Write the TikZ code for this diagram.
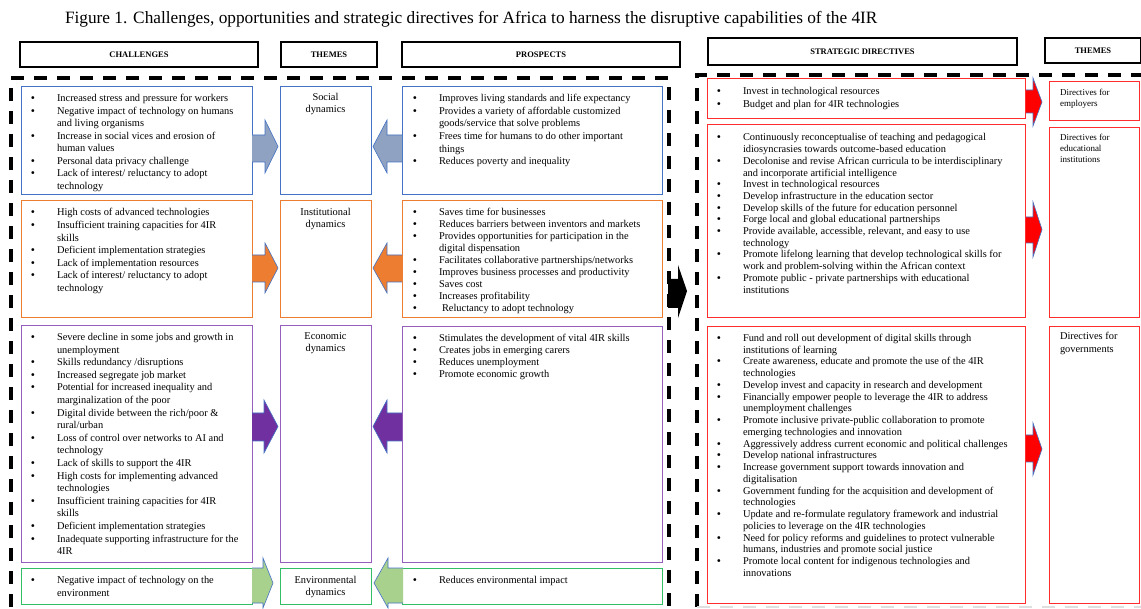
\documentclass[tikz,border=0pt]{standalone}
\usepackage{fontspec}
\setmainfont{Liberation Serif}
\definecolor{socblue}{RGB}{68,114,196}
\definecolor{socfill}{RGB}{143,162,193}
\definecolor{instor}{RGB}{237,125,49}
\definecolor{econp}{RGB}{112,48,160}
\definecolor{econbox}{RGB}{150,95,190}
\definecolor{envg}{RGB}{169,209,142}
\definecolor{envbox}{RGB}{50,190,100}
\definecolor{dirred}{RGB}{255,45,45}
\newcommand\bi[1]{\par\hangindent=26pt\hangafter=1\noindent\makebox[26pt][l]{\bfseries\textbullet}#1}
\newcommand\blist[2]{\begin{minipage}[t]{330pt}\fontsize{10.4}{#1}\selectfont\raggedright #2\end{minipage}}
\newcommand\thm[1]{\fontsize{10.4}{12}\selectfont\begin{tabular}[t]{@{}c@{}}#1\end{tabular}}
\tikzset{
  frame/.style={line width=1pt, inner sep=0pt, outer sep=0pt, anchor=north west},
  hdr/.style={draw=black, line width=1.5pt, inner sep=0pt, outer sep=0pt, anchor=north west,
     font=\fontsize{8.5}{10}\selectfont\bfseries},
  txt/.style={anchor=base west, inner sep=0pt, outer sep=0pt},
  blockarrow/.style={draw=socblue, line width=0.6pt, line join=miter},
  dashframe/.style={line width=4pt, dash pattern=on 13pt off 10pt},
}
\newcommand\bx[6]{\node[frame, draw=#2, minimum width={(#5-#3)*1pt}, minimum height={(#6-#4)*1pt}] (#1) at (#3,#4) {};}
\newcommand\hb[6]{\node[hdr, minimum width={(#5-#3)*1pt}, minimum height={(#6-#4)*1pt}] (#1) at (#3,#4) {#2};}
% block arrow: fill, x0 (base), xh (head start), xt (tip), s1, s2 (shaft), h1, h2 (head)
\newcommand\barr[8]{\fill[#1] (#2,#5) -- (#3,#5) -- (#3,#7) -- (#4,{(#7+#8)/2}) -- (#3,#8) -- (#3,#6) -- (#2,#6) -- cycle;
  \draw[blockarrow] (#2,#5) -- (#3,#5) -- (#3,#7) -- (#4,{(#7+#8)/2}) -- (#3,#8) -- (#3,#6) -- (#2,#6);}
\begin{document}
\begin{tikzpicture}[x=1pt,y=-1pt]
\useasboundingbox[fill=white] (0,0) rectangle (1141,609);

% title
\node[txt] (title) at (65,24) {\fontsize{17.3}{19}\selectfont Figure 1. Challenges, opportunities and strategic directives for Africa to harness the disruptive capabilities of the 4IR};

% headers
\hb{hChal}{CHALLENGES}{20}{42}{258}{67}
\hb{hThem}{THEMES}{281}{42}{377}{67}
\hb{hPros}{PROSPECTS}{402}{42}{680}{67}
\hb{hStrat}{STRATEGIC DIRECTIVES}{708}{38}{1017}{65}
\hb{hThem2}{THEMES}{1045}{38}{1141}{63}

% dashed frames
\draw[dashframe] (11,630) -- (11,78) -- (669,78) -- (669,630);
\draw[dashframe] (697,630) -- (697,75) -- (1141,75);
\draw[line width=2pt, gray!25, dash pattern=on 13pt off 10pt] (697,607) -- (1141,607);

% challenge boxes
\bx{cSoc}{socblue}{21}{87}{252}{195}
\bx{cIns}{instor}{21}{201}{252}{318}
\bx{cEco}{econbox}{21}{326}{252}{562}
\bx{cEnv}{envbox}{21}{568}{252}{604}
% theme boxes
\bx{tSoc}{socblue}{280}{87}{371}{195}
\bx{tIns}{instor}{280}{201}{371}{318}
\bx{tEco}{econbox}{280}{326}{371}{562}
\bx{tEnv}{envbox}{280}{568}{371}{604}
% prospect boxes
\bx{pSoc}{socblue}{402}{87}{662}{195}
\bx{pIns}{instor}{402}{201}{662}{318}
\bx{pEco}{econbox}{402}{327}{662}{562}
\bx{pEnv}{envbox}{402}{568}{662}{604}
% directive boxes
\bx{dEmp}{dirred}{707}{79}{1025}{119}
\bx{dEdu}{dirred}{707}{125}{1025}{318}
\bx{dGov}{dirred}{707}{327}{1025}{603}
% right theme boxes
\bx{rEmp}{dirred}{1049}{82}{1139}{121}
\bx{rEdu}{dirred}{1049}{128}{1139}{318}
\bx{rGov}{dirred}{1049}{327}{1139}{603}

% block arrows
\barr{socfill}{252}{265}{278}{135}{162}{120}{173}
\barr{socfill}{402}{387}{373}{135}{162}{120}{173}
\barr{instor}{252}{265}{278}{255}{282}{243}{293}
\barr{instor}{402}{387}{373}{255}{282}{243}{293}
\barr{econp}{252}{264}{278}{413}{441}{400}{453}
\barr{econp}{402}{387}{373}{413}{441}{400}{453}
\barr{envg}{252}{263}{273}{568}{603}{558}{608}
\barr{envg}{403}{388}{374}{568}{603}{558}{608}
\barr{red}{1026}{1033}{1042}{90}{113}{78}{126}
\barr{red}{1026}{1033}{1042}{217}{243}{202}{257}
\barr{red}{1026}{1033}{1042}{435}{462}{423}{475}
\fill[black] (668,279) -- (678,279) -- (678,265) -- (687,291) -- (678,318) -- (678,308) -- (668,308) -- cycle;

% theme labels
\node[anchor=base, inner sep=0pt] (lSoc) at (325.5,100.5) {\thm{Social\\dynamics}};
\node[anchor=base, inner sep=0pt] (lIns) at (325.5,216) {\thm{Institutional\\dynamics}};
\node[anchor=base, inner sep=0pt] (lEco) at (325.5,340) {\thm{Economic\\dynamics}};
\node[anchor=base, inner sep=0pt] (lEnv) at (325.5,583.5) {\thm{Environmental\\dynamics}};

\node[txt] (lEmp) at (1060,96) {\begin{minipage}[t]{75pt}\fontsize{9}{10.8}\selectfont Directives for\\employers\end{minipage}};
\node[txt] (lEdu) at (1060,141) {\begin{minipage}[t]{75pt}\fontsize{9}{10.6}\selectfont Directives for\\educational\\institutions\end{minipage}};
\node[txt] (lGov) at (1060,340) {\begin{minipage}[t]{75pt}\fontsize{10.4}{12.5}\selectfont Directives for\\governments\end{minipage}};

% challenges text
\node[txt] (xSoc) at (31,102) {\blist{12.5}{%
\bi{Increased stress and pressure for workers}
\bi{Negative impact of technology on humans\newline and living organisms}
\bi{Increase in social vices and erosion of\newline human values}
\bi{Personal data privacy challenge}
\bi{Lack of interest/ reluctancy to adopt\newline technology}}};
\node[txt] (xIns) at (31,216) {\blist{12.6}{%
\bi{High costs of advanced technologies}
\bi{Insufficient training capacities for 4IR\newline skills}
\bi{Deficient implementation strategies}
\bi{Lack of implementation resources}
\bi{Lack of interest/ reluctancy to adopt\newline technology}}};
\node[txt] (xEco) at (31,340.5) {\blist{12.6}{%
\bi{Severe decline in some jobs and growth in\newline unemployment}
\bi{Skills redundancy /disruptions}
\bi{Increased segregate job market}
\bi{Potential for increased inequality and\newline marginalization of the poor}
\bi{Digital divide between the rich/poor \&\newline rural/urban}
\bi{Loss of control over networks to AI and\newline technology}
\bi{Lack of skills to support the 4IR}
\bi{High costs for implementing advanced\newline technologies}
\bi{Insufficient training capacities for 4IR\newline skills}
\bi{Deficient implementation strategies}
\bi{Inadequate supporting infrastructure for the\newline 4IR}}};
\node[txt] (xEnv) at (31,583.5) {\blist{13}{%
\bi{Negative impact of technology on the\newline environment}}};

% prospects text
\node[txt] (ySoc) at (413,101.5) {\blist{12.7}{%
\bi{Improves living standards and life expectancy}
\bi{Provides a variety of affordable customized\newline goods/service that solve problems}
\bi{Frees time for humans to do other important\newline things}
\bi{Reduces poverty and inequality}}};
\node[txt] (yIns) at (413,216) {\blist{12}{%
\bi{Saves time for businesses}
\bi{Reduces barriers between inventors and markets}
\bi{Provides opportunities for participation in the\newline digital dispensation}
\bi{Facilitates collaborative partnerships/networks}
\bi{Improves business processes and productivity}
\bi{Saves cost}
\bi{Increases profitability}
\bi{\hspace{3pt}Reluctancy to adopt technology}}};
\node[txt] (yEco) at (413,341.5) {\blist{12}{%
\bi{Stimulates the development of vital 4IR skills}
\bi{Creates jobs in emerging carers}
\bi{Reduces unemployment}
\bi{Promote economic growth}}};
\node[txt] (yEnv) at (413,583.5) {\blist{12}{%
\bi{Reduces environmental impact}}};

% directives text
\node[txt] (zEmp) at (717,95) {\blist{12.3}{%
\bi{Invest in technological resources}
\bi{Budget and plan for 4IR technologies}}};
\node[txt] (zEdu) at (717,141) {\blist{11.7}{%
\bi{Continuously reconceptualise of teaching and pedagogical\newline idiosyncrasies towards outcome-based education}
\bi{Decolonise and revise African curricula to be interdisciplinary\newline and incorporate artificial intelligence}
\bi{Invest in technological resources}
\bi{Develop infrastructure in the education sector}
\bi{Develop skills of the future for education personnel}
\bi{Forge local and global educational partnerships}
\bi{Provide available, accessible, relevant, and easy to use\newline technology}
\bi{Promote lifelong learning that develop technological skills for\newline work and problem-solving within the African context}
\bi{Promote public - private partnerships with educational\newline institutions}}};
\node[txt] (zGov) at (717,341.5) {\blist{11.75}{%
\bi{Fund and roll out development of digital skills through\newline institutions of learning}
\bi{Create awareness, educate and promote the use of the 4IR\newline technologies}
\bi{Develop invest and capacity in research and development}
\bi{Financially empower people to leverage the 4IR to address\newline unemployment challenges}
\bi{Promote inclusive private-public collaboration to promote\newline emerging technologies and innovation}
\bi{Aggressively address current economic and political challenges}
\bi{Develop national infrastructures}
\bi{Increase government support towards innovation and\newline digitalisation}
\bi{Government funding for the acquisition and development of\newline technologies}
\bi{Update and re-formulate regulatory framework and industrial\newline policies to leverage on the 4IR technologies}
\bi{Need for policy reforms and guidelines to protect vulnerable\newline humans, industries and promote social justice}
\bi{Promote local content for indigenous technologies and\newline innovations}}};
\end{tikzpicture}
\end{document}
